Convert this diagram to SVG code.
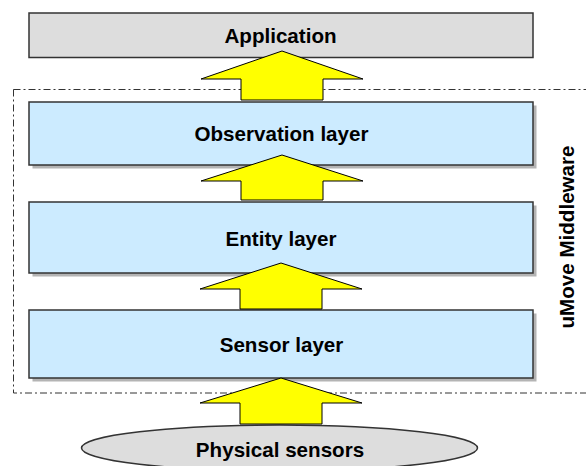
<svg xmlns="http://www.w3.org/2000/svg" width="586" height="466" viewBox="0 0 586 466">
  <style>
    .lbl { font-family: "Liberation Sans", Arial, sans-serif; font-weight: bold; font-size: 20.6px; fill: #000; text-anchor: middle; }
    .layer { fill: #CCEBFF; stroke: #333; stroke-width: 1.5; }
    .shadow { fill: #B4B4B4; }
    .grey { fill: #DDDDDD; stroke: #333; stroke-width: 1.5; }
    .frame { fill: none; stroke: #333; stroke-width: 1; stroke-dasharray: 7 3 2 3; }
    .up { fill: #FFFF00; stroke: #000; stroke-width: 1; stroke-linejoin: miter; }
  </style>

  <rect width="586" height="466" fill="#fff"/>

  <!-- middleware frame -->
  <g id="middleware">
    <rect class="frame" x="13.5" y="89.5" width="600" height="303.5"/>
    <text class="lbl" transform="translate(574,237) rotate(-90)">uMove Middleware</text>
  </g>

  <g id="application">
    <rect class="grey" x="29" y="13" width="504" height="44.5"/>
    <text class="lbl" x="280.5" y="43">Application</text>
  </g>

  <g id="observation">
    <rect class="shadow" x="32.5" y="105.5" width="504" height="63"/>
    <rect class="layer" x="29" y="102" width="504" height="63"/>
    <text class="lbl" x="281.5" y="140.5">Observation layer</text>
  </g>

  <g id="entity">
    <rect class="shadow" x="32.5" y="205.5" width="504" height="71"/>
    <rect class="layer" x="29" y="202" width="504" height="71"/>
    <text class="lbl" x="281" y="246">Entity layer</text>
  </g>

  <g id="sensor">
    <rect class="shadow" x="32.5" y="313.5" width="504" height="68"/>
    <rect class="layer" x="29" y="310" width="504" height="68"/>
    <text class="lbl" x="281.5" y="352">Sensor layer</text>
  </g>

  <g id="physical">
    <ellipse class="grey" cx="279.5" cy="448" rx="198" ry="23"/>
    <text class="lbl" x="280" y="457">Physical sensors</text>
  </g>

  <!-- data flow arrows -->
  <g id="connectors">
    <path class="up" d="M282,51 L363,79 L323,79 L323,100 L241,100 L241,79 L201,79 Z"/>
    <path class="up" d="M282,155 L363,181 L323,181 L323,200 L241,200 L241,181 L201,181 Z"/>
    <path class="up" d="M281,263 L362,289 L322,289 L322,309 L240,309 L240,289 L200,289 Z"/>
    <path class="up" d="M281,378 L362,403 L322,403 L322,424 L240,424 L240,403 L200,403 Z"/>
  </g>
</svg>
